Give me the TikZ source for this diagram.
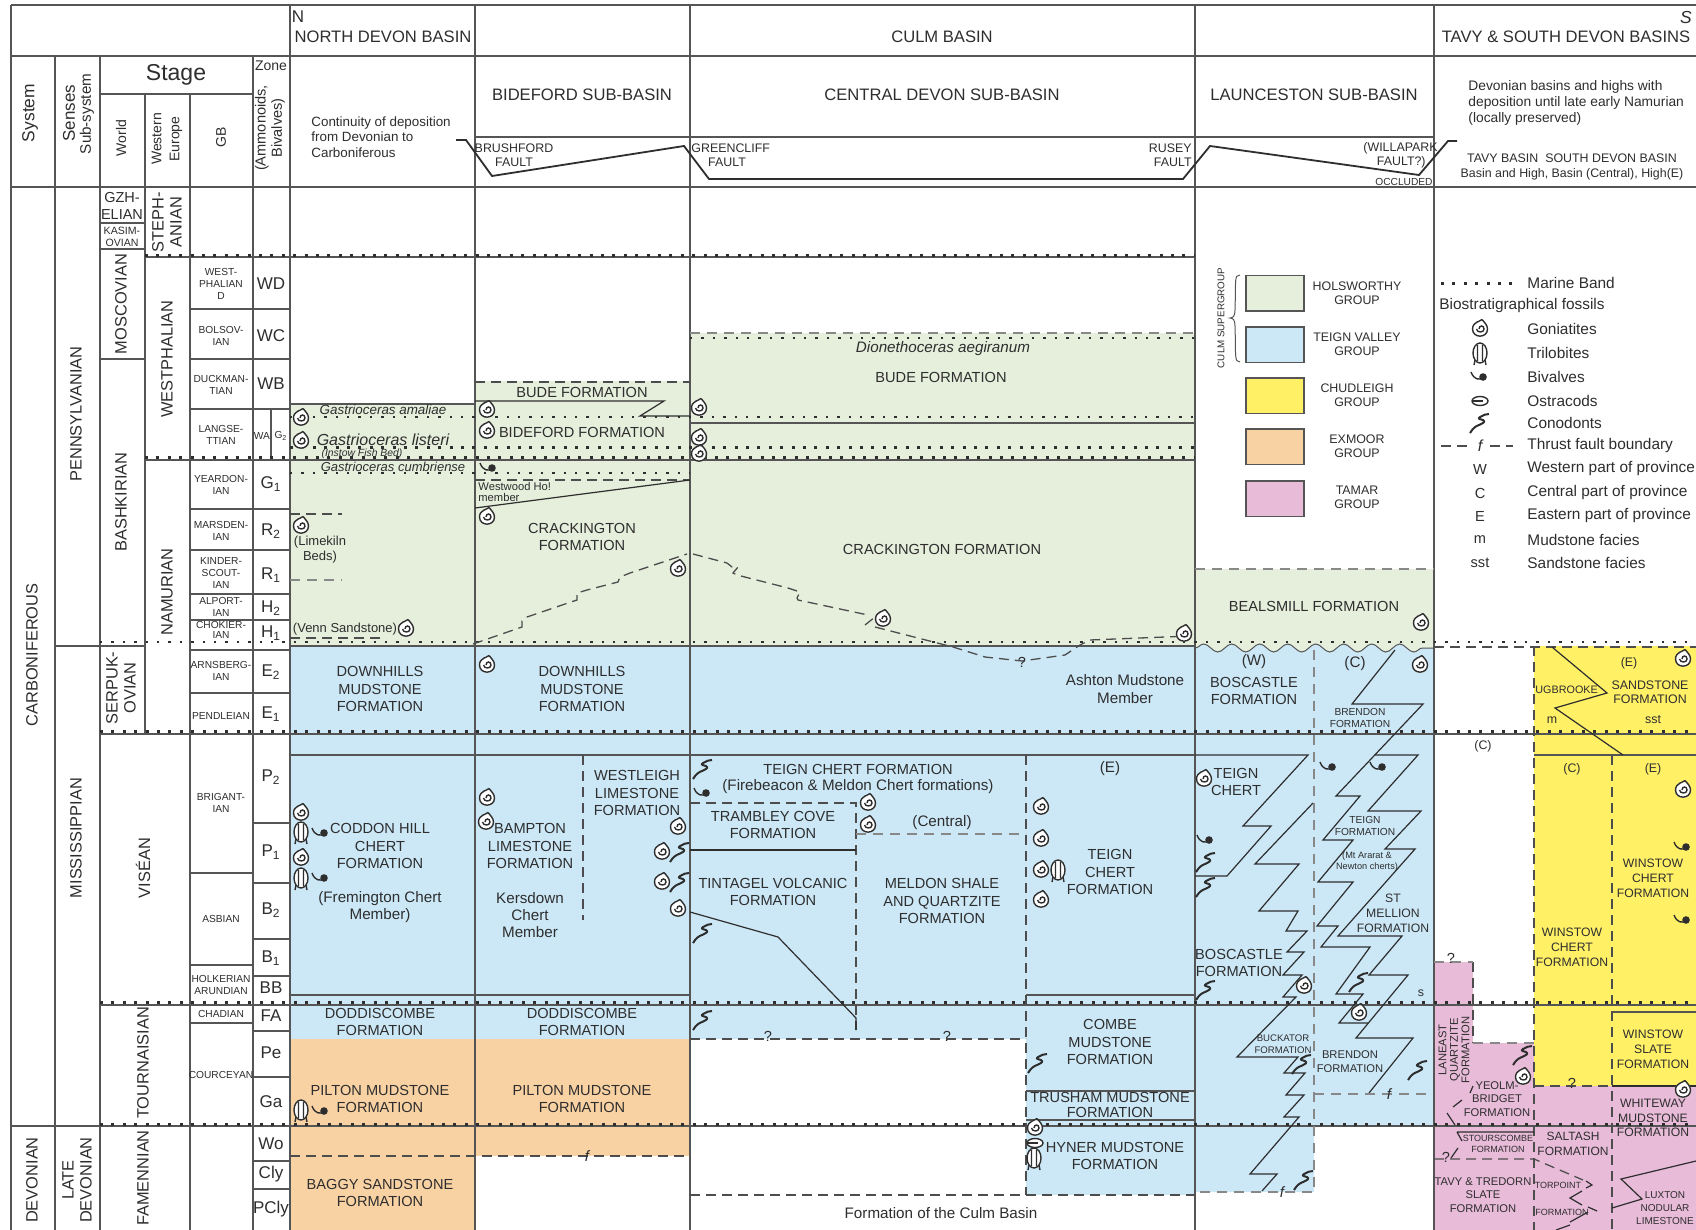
\documentclass[tikz,border=0pt]{standalone}
\usepackage{fontspec}
\setmainfont{Liberation Sans}
\usetikzlibrary{decorations.pathmorphing}
\definecolor{ink}{HTML}{2E2E2E}
\definecolor{rule}{HTML}{555555}
\definecolor{cHol}{HTML}{E6EEDC}
\definecolor{cTei}{HTML}{CCE8F7}
\definecolor{cChu}{HTML}{FFF066}
\definecolor{cExm}{HTML}{F9D2A4}
\definecolor{cTam}{HTML}{E8BBD8}
\begin{document}
\begin{tikzpicture}[
      x=0.5pt,y=-0.5pt,
      every node/.style={inner sep=0pt,text=ink,align=center},
      fm/.style={font=\fontsize{7.3}{8.6}\selectfont},
      fmtx/.style={font=\fontsize{7.6}{8.6}\selectfont},
      fmsm/.style={font=\fontsize{6.2}{7.2}\selectfont},
      fmwn/.style={font=\fontsize{6.1}{7.4}\selectfont},
      fmlo/.style={font=\fontsize{5.6}{6.8}\selectfont},
      fmti/.style={font=\fontsize{5.1}{6}\selectfont},
      fmmi/.style={font=\fontsize{4.5}{5.6}\selectfont},
      hd/.style={font=\fontsize{8.3}{10}\selectfont},
      sb/.style={font=\fontsize{8.3}{10}\selectfont},
      zn/.style={font=\fontsize{8.5}{10}\selectfont},
      ag/.style={font=\fontsize{8.2}{9}\selectfont,rotate=90},
      leg/.style={font=\fontsize{7.7}{9}\selectfont,anchor=west},
      fossil/.style={font=\fontsize{6.7}{8}\selectfont\itshape},
      grid/.style={draw=rule,line width=0.7pt},
      solid line/.style={draw=ink,line width=0.6pt},
      dash line/.style={draw=ink!85,line width=0.65pt,dash pattern=on 5pt off 3pt},
      grey dash/.style={draw=rule!70,line width=0.6pt,dash pattern=on 5pt off 3.5pt},
      thin dots/.style={draw=ink,line width=1.15pt,dash pattern=on 1.15pt off 4.55pt},
      bold dots/.style={draw=ink,line width=1.5pt,dash pattern=on 1.5pt off 4.2pt},
      gon/.pic={
        \fill[white] (0,0) circle (8);
        \draw[ink,line width=0.7pt] (2,-9.5) .. controls (0,-7.5) and (-7.5,-7) .. (-7.5,0) .. controls (-7.5,9.5) and (7.5,9.5) .. (7.5,0) .. controls (7.5,-4) and (4,-7) .. (2,-9.5);
        \draw[ink,line width=0.7pt] (-3.5,0) .. controls (-3,4) and (4,4) .. (4,0) .. controls (4,-4) and (-1,-4) .. (-1,0);
      },
      tri/.pic={
        \draw[ink,fill=white,line width=0.7pt] (0,0) ellipse (7 and 10);
        \draw[ink,line width=0.7pt] (-2.5,-8) -- (-2.5,8) (2.5,-8) -- (2.5,8) (-5,7) -- (-6,12) (5,7) -- (6,12);
      },
      biv/.pic={
        \draw[ink,line width=0.7pt] (-9,-5) .. controls (-6,3) and (-1,3) .. (3,1);
        \fill[ink] (3,0) circle (3.8);
      },
      con/.pic={
        \draw[ink,line width=1pt,line join=round] (-10,10) .. controls (-7,5) and (-4,3) .. (-1,2) .. controls (3,0) and (6,-1) .. (3,-3) .. controls (0,-4) and (-3,-4) .. (0,-6) .. controls (3,-8) and (6,-9) .. (9,-9);
      },
      ost/.pic={
        \draw[ink,line width=0.7pt,fill=white] (0,0) ellipse (8 and 4.5);
        \draw[ink,line width=0.7pt] (-8,0) -- (3,0);
      }]
    \useasboundingbox (0,0) rectangle (1696,1230);
    \fill[white] (0,0) rectangle (1696,1230);
    \fill[cHol] (290,404) rectangle (475,646);
    \fill[cHol] (475,381) rectangle (690,646);
    \fill[cHol] (690,333) rectangle (1195,646);
    \fill[cHol] (1195,569) rectangle (1434,654);
    \fill[cTei] (290,646) rectangle (1195,1039);
    \fill[cTei] (1026,1039) rectangle (1195,1195);
    \fill[cTei,decoration={snake,segment length=14pt,amplitude=2pt}] decorate {(1195,648) -- (1434,648)} -- (1434,1125) -- (1314,1125) -- (1314,1192) -- (1195,1192) -- cycle;
    \fill[cExm] (290,1039) rectangle (475,1230);
    \fill[cExm] (475,1039) rectangle (690,1156);
    \fill[cChu] (1534,646) rectangle (1696,1086);
    \fill[cTam] (1434,962) rectangle (1473,1230);
    \fill[cTam] (1473,1043) rectangle (1534,1230);
    \fill[cTam] (1534,1086) rectangle (1696,1230);
    \draw[rule,line width=0.5pt,decoration={snake,segment length=14pt,amplitude=2pt},decorate] (1195,648) -- (1434,648);

    \foreach \x in {11,290,475,690,1195,1434}
      \draw[grid] (\x,5) -- (\x,1230);
    \foreach \x in {55,100,253}
      \draw[grid] (\x,56) -- (\x,1230);
    \draw[grid] (190,94) -- (190,1230);
    \draw[grid] (145,94) -- (145,734);
    \foreach \y in {5,56,187}
      \draw[grid] (11,\y) -- (1696,\y);
    \draw[grid] (475,137) -- (1434,137);
    \draw[grid] (100,94) -- (253,94);
    \foreach \y in {223,249,359}
      \draw[grid] (100,\y) -- (145,\y);
    \draw[grid] (55,646) -- (145,646);
    \foreach \y in {309,359,409,509,550,594,620,650,693}
      \draw[grid] (190,\y) -- (290,\y);
    \foreach \y in {873,965,1023}
      \draw[grid] (190,\y) -- (253,\y);
    \foreach \y in {823,883,939,976,1031,1077,1161,1189}
      \draw[grid] (253,\y) -- (290,\y);
    \draw[grid] (271,409) -- (271,460);
    \foreach \y in {257,460}
      \draw[grid] (145,\y) -- (1195,\y);
    \foreach \y in {734,1005}
      \draw[grid] (100,\y) -- (1696,\y);
    \draw[grid] (11,1126) -- (1696,1126);
    \draw[grid] (290,646) -- (1195,646);
    \draw[grid] (290,404) -- (475,404);
    \draw[grid] (690,423) -- (1195,423);
    \draw[grid] (290,755) -- (1195,755);
    \draw[grid] (1534,755) -- (1696,755);
    \draw[grid] (290,995) -- (690,995);
    \draw[grid] (1026,995) -- (1195,995);
    \draw[grid] (1026,1091) -- (1195,1091);
    \draw[grid] (1026,1120) -- (1195,1120);
    \draw[grid] (1612,1012) -- (1696,1012);

    \draw[thin dots] (290,417) -- (1195,417);
    \draw[thin dots] (290,473) -- (690,473);
    \draw[thin dots] (690,338) -- (1195,338);
    \draw[thin dots] (100,642) -- (1696,642);
    \draw[bold dots] (145,256) -- (1195,256);
    \draw[bold dots] (290,447) -- (1195,447);
    \draw[bold dots] (145,457) -- (1195,457);
    \foreach \y in {731,1002,1124}
      \draw[bold dots] (100,\y) -- (1696,\y);

    \draw[solid line,line width=0.9pt] (456,140) -- (466,140) -- (492,176) -- (684,146) -- (709,179) -- (1183,179) -- (1210,146) -- (1419,175) -- (1448,141) -- (1457,141);

    \draw[dash line] (475,382) -- (690,382);
    \draw[grey dash] (690,333) -- (1195,333);
    \draw[grey dash] (1195,569) -- (1434,569);
    \draw[solid line] (475,401) -- (664,401) -- (640,416) -- (690,416);
    \draw[dash line] (475,480) -- (690,480);
    \draw[solid line] (475,508) -- (690,480);
    \draw[dash line] (473,644) -- (522,627) -- (522,621) -- (527,617) -- (568,603) -- (577,600) -- (577,593) -- (587,590) -- (618,582) -- (620,577) -- (630,573) -- (687,554);
    \draw[dash line] (693,554) -- (727,563) -- (732,567) -- (738,567) -- (733,573) -- (737,575) -- (788,588) -- (800,592) -- (797,598) -- (798,600) -- (868,615) (865,625) -- (875,617) (875,627) -- (953,647) -- (985,657) -- (1022,661) -- (1065,655) -- (1080,645) -- (1090,640) -- (1190,636);
    \draw[dash line] (290,514) -- (342,514);
    \draw[grey dash] (290,580) -- (342,580);
    \draw[dash line] (290,638) -- (382,638);
    \draw[dash line] (1434,647) -- (1696,647);

    \draw[dash line] (583,755) -- (583,920);
    \draw[dash line] (690,803) -- (856,803) -- (856,1030);
    \draw[solid line] (690,850) -- (856,850);
    \draw[solid line] (690,912) -- (778,937) -- (856,1018) -- (856,1030);
    \draw[grey dash] (856,834) -- (1026,834);
    \draw[dash line] (1026,755) -- (1026,1195);
    \draw[dash line] (690,1039) -- (1026,1039);
    \draw[dash line] (690,1195) -- (1195,1195);
    \draw[dash line] (290,1156) -- (690,1156);

    \draw[solid line] (1195,755) -- (1308,755) -- (1243,826) -- (1271,826) -- (1227,876) -- (1195,876);
    \draw[solid line] (1313,803) -- (1255,864) -- (1299,864) -- (1259,911) -- (1298,911) -- (1286,931) -- (1307,931) -- (1287,952) -- (1304,952) -- (1283,975) -- (1302,975) -- (1283,997) -- (1296,997) -- (1237,1057) -- (1298,1057) -- (1284,1073) -- (1305,1073) -- (1286,1095) -- (1304,1095) -- (1284,1117) -- (1299,1117) -- (1250,1174) -- (1277,1174) -- (1262,1191);
    \draw[solid line] (1395,650) -- (1352,704) -- (1423,704) -- (1336,796) -- (1360,796) -- (1323,840) -- (1353,840) -- (1318,882) -- (1353,882) -- (1317,926) -- (1338,926) -- (1321,947) -- (1370,947) -- (1336,994) -- (1363,994) -- (1339,1023) -- (1368,1023);
    \draw[solid line] (1375,755) -- (1418,755) -- (1368,811) -- (1421,811) -- (1385,849) -- (1415,849) -- (1338,936) -- (1402,936) -- (1369,975) -- (1408,975) -- (1356,1038) -- (1413,1038) -- (1369,1093);
    \draw[grey dash] (1314,650) -- (1314,1192) -- (1195,1192);
    \draw[grey dash] (1314,1094) -- (1427,1094);

    \draw[dash line,line width=0.8pt] (1534,646) -- (1534,1230);
    \draw[dash line,line width=0.8pt] (1612,755) -- (1612,1230);
    \draw[solid line] (1552,647) -- (1607,693) -- (1555,708) -- (1623,755);
    \draw[dash line] (1473,962) -- (1473,1043);
    \draw[grey dash] (1434,962) -- (1473,962);
    \draw[grey dash] (1473,1043) -- (1534,1043);
    \draw[dash line] (1534,1086) -- (1612,1086);
    \draw[solid line] (1612,1086) -- (1696,1086);
    \draw[dash line] (1434,1159) -- (1534,1159) -- (1583,1180);
    \draw[solid line] (1696,1161) -- (1621,1179) -- (1642,1199) -- (1612,1208);
    \draw[solid line] (1457,1132) -- (1534,1132) (1457,1132) -- (1462,1141);
    \draw[solid line] (1473,1086) -- (1470,1093) (1462,1100) -- (1453,1107) (1447,1113) -- (1455,1125);
    \draw[solid line] (1451,1158) -- (1458,1148);
    \draw[solid line] (1586,1181) -- (1592,1185) -- (1586,1188);
    \draw[solid line] (1582,1191) -- (1570,1198) -- (1582,1205);
    \draw[solid line] (1588,1207) -- (1597,1211) (1588,1212) -- (1570,1222) (1570,1225) -- (1556,1230);

    \fill[cHol] (1246,275.5) rectangle (1304,311);
    \fill[cTei] (1246,327) rectangle (1304,362.5);
    \fill[cChu] (1246,378) rectangle (1304,413.5);
    \fill[cExm] (1246,429) rectangle (1304,464.5);
    \fill[cTam] (1246,481) rectangle (1304,516.5);
    \foreach \y in {275.5,327,378,429,481}
      \draw[grid] (1246,\y) rectangle (1304,\y+35.5);
    \draw[rule,line width=0.5pt] (1240,275) .. controls (1234,275) and (1236,280) .. (1235,310) .. controls (1235,316) and (1233,318) .. (1230,318) .. controls (1233,318) and (1235,320) .. (1235,326) .. controls (1236,356) and (1234,362) .. (1240,362);
    \draw[bold dots] (1441,283) -- (1512,283);
    \draw[dash line] (1441,446) -- (1470,446) (1490,446) -- (1513,446);

    \node[zn] at (298,17) {N};
    \node[hd] at (383,37) {NORTH DEVON BASIN};
    \node[hd] at (942,37) {CULM BASIN};
    \node[hd] at (1566,37) {TAVY \& SOUTH DEVON BASINS};
    \node[font=\fontsize{8.7}{10}\selectfont\itshape] at (1686,18) {S};
    \node[sb] at (582,95) {BIDEFORD SUB-BASIN};
    \node[sb] at (942,95) {CENTRAL DEVON SUB-BASIN};
    \node[sb] at (1314,95) {LAUNCESTON SUB-BASIN};
    \node[font=\fontsize{6.7}{7.8}\selectfont,anchor=west,align=left] at (311,137) {Continuity of deposition\\from Devonian to\\Carboniferous};
    \node[font=\fontsize{6.9}{7.8}\selectfont,anchor=west,align=left] at (1468,103) {Devonian basins and highs with\\deposition until late early Namurian\\(locally preserved)};
    \node[fmsm] at (1572,167) {TAVY BASIN\ \ SOUTH DEVON BASIN\\Basin and High, Basin (Central), High(E)};
    \node[fmsm] at (514,155) {BRUSHFORD\\FAULT};
    \node[fmsm,anchor=west] at (691,148) {GREENCLIFF};
    \node[fmsm] at (727,162) {FAULT};
    \node[fmsm,anchor=east] at (1192,148) {RUSEY};
    \node[fmsm,anchor=east] at (1192,162) {FAULT};
    \node[fmsm,anchor=east] at (1438,148) {(WILLAPARK};
    \node[fmsm,anchor=east] at (1426,162) {FAULT?)};
    \node[fmti,anchor=east] at (1433,182) {OCCLUDED};

    \node[font=\fontsize{11.5}{12}\selectfont] at (176,75) {Stage};
    \node[font=\fontsize{7}{8}\selectfont] at (271,66) {Zone};
    \node[font=\fontsize{8.7}{10}\selectfont,rotate=90] at (30,113) {System};
    \node[font=\fontsize{8.5}{10}\selectfont,rotate=90] at (69,113) {Senses};
    \node[font=\fontsize{7.6}{10}\selectfont,rotate=90] at (87,114) {Sub-system};
    \node[font=\fontsize{7}{10}\selectfont,rotate=90] at (121,138) {World};
    \node[font=\fontsize{7}{9}\selectfont,rotate=90] at (167,139) {Western\\Europe};
    \node[font=\fontsize{7}{10}\selectfont,rotate=90] at (221,137) {GB};
    \node[font=\fontsize{7.3}{8.2}\selectfont,rotate=90] at (270,128) {(Ammonoids,\\Bivalves)};

    \node[font=\fontsize{7.25}{8.5}\selectfont] at (122,206) {GZH-\\ELIAN};
    \node[font=\fontsize{5.3}{6}\selectfont] at (122,237) {KASIM-\\OVIAN};
    \node[ag,font=\fontsize{8.2}{9}\selectfont] at (167,222) {STEPH-\\ANIAN};
    \node[ag] at (121,304) {MOSCOVIAN};
    \node[ag] at (121,502) {BASHKIRIAN};
    \node[ag] at (167,359) {WESTPHALIAN};
    \node[ag] at (167,592) {NAMURIAN};
    \node[ag] at (76,414) {PENNSYLVANIAN};
    \node[ag] at (32,655) {CARBONIFEROUS};
    \node[ag] at (76,838) {MISSISSIPPIAN};
    \node[ag] at (121,688) {SERPUK-\\OVIAN};
    \node[ag] at (143,868) {VISÉAN};
    \node[ag] at (143,1063) {TOURNAISIAN};
    \node[ag] at (143,1178) {FAMENNIAN};
    \node[ag] at (32,1180) {DEVONIAN};
    \node[ag] at (77,1180) {LATE\\DEVONIAN};

    \foreach \y/\t in {284/WEST-\\PHALIAN\\D,336/BOLSOV-\\IAN,385/DUCKMAN-\\TIAN,435/LANGSE-\\TTIAN,485/YEARDON-\\IAN,531/MARSDEN-\\IAN,573/KINDER-\\SCOUT-\\IAN,607/ALPORT-\\IAN,671/ARNSBERG-\\IAN,716/PENDLEIAN,803/BRIGANT-\\IAN,919/ASBIAN,985/HOLKERIAN\\ARUNDIAN,1014/CHADIAN,1075/COURCEYAN}
      \node[fmti] at (221,\y) {\t};
    \node[font=\fontsize{5.1}{4.6}\selectfont] at (221,630) {CHOKIER-\\IAN};
    \foreach \y/\t in {284/WD,336/WC,384/WB,484/G\textsubscript{1},531/R\textsubscript{2},575/R\textsubscript{1},608/H\textsubscript{2},633/H\textsubscript{1},672/E\textsubscript{2},714/E\textsubscript{1},777/P\textsubscript{2},852/P\textsubscript{1},910/B\textsubscript{2},958/B\textsubscript{1},988/BB,1016/FA,1053/Pe,1102/Ga,1144/Wo,1174/Cly,1209/PCly}
      \node[zn] at (271,\y) {\t};
    \node[fmti] at (262,436) {WA};
    \node[fmti] at (281,436) {G\textsubscript{2}};

    \node[fossil] at (383,410) {Gastrioceras amaliae};
    \node[fossil,font=\fontsize{8}{9}\selectfont\itshape] at (383,440) {Gastrioceras listeri};
    \node[fmti,font=\fontsize{5.2}{6}\selectfont\itshape] at (362,454) {(Instow Fish Bed)};
    \node[fossil,font=\fontsize{6.5}{8}\selectfont\itshape] at (393,467) {Gastrioceras cumbriense};
    \node[fossil,font=\fontsize{7.6}{8}\selectfont\itshape] at (943,349) {Dionethoceras aegiranum};
    \node[font=\fontsize{6.5}{7.5}\selectfont] at (320,550) {(Limekiln\\Beds)};
    \node[font=\fontsize{6.5}{7.5}\selectfont] at (345,629) {(Venn Sandstone)};
    \foreach \x in {380,582}
      \node[fm] at (\x,689) {DOWNHILLS\\MUDSTONE\\FORMATION};
    \foreach \x in {380,582}
      \node[fm] at (\x,1022) {DODDISCOMBE\\FORMATION};
    \foreach \x in {380,582}
      \node[fm] at (\x,1099) {PILTON MUDSTONE\\FORMATION};
    \node[fm] at (380,846) {CODDON HILL\\CHERT\\FORMATION};
    \node[fmtx] at (380,907) {(Fremington Chert\\Member)};
    \node[fm] at (380,1193) {BAGGY SANDSTONE\\FORMATION};
    \node[fm] at (582,392) {BUDE FORMATION};
    \node[fm] at (582,432) {BIDEFORD FORMATION};
    \node[font=\fontsize{5.6}{5.2}\selectfont,anchor=west,align=left] at (478,492) {Westwood Ho!\\member};
    \node[fm] at (582,537) {CRACKINGTON\\FORMATION};
    \node[fm] at (530,846) {BAMPTON\\LIMESTONE\\FORMATION};
    \node[fmtx] at (530,915) {Kersdown\\Chert\\Member};
    \node[fm] at (637,793) {WESTLEIGH\\LIMESTONE\\FORMATION};
    \node[fm] at (941,377) {BUDE FORMATION};
    \node[fm] at (942,549) {CRACKINGTON FORMATION};
    \node[fmtx] at (1125,689) {Ashton Mudstone\\Member};
    \node[fm] at (858,769) {TEIGN CHERT FORMATION};
    \node[fmtx] at (858,787) {(Firebeacon \& Meldon Chert formations)};
    \node[fm] at (773,825) {TRAMBLEY COVE\\FORMATION};
    \node[fmtx] at (942,823) {(Central)};
    \node[fm] at (773,892) {TINTAGEL VOLCANIC\\FORMATION};
    \node[fm] at (942,901) {MELDON SHALE\\AND QUARTZITE\\FORMATION};
    \node[fmtx] at (1110,769) {(E)};
    \node[fm] at (1110,872) {TEIGN\\CHERT\\FORMATION};
    \node[fm] at (1110,1042) {COMBE\\MUDSTONE\\FORMATION};
    \node[font=\fontsize{7.3}{7.4}\selectfont] at (1110,1105) {TRUSHAM MUDSTONE\\FORMATION};
    \node[fm] at (1115,1156) {HYNER MUDSTONE\\FORMATION};
    \node[fmtx] at (941,1213) {Formation of the Culm Basin};
    \node[fm] at (1314,606) {BEALSMILL FORMATION};
    \node[fmtx] at (1254,662) {(W)};
    \node[fm] at (1254,691) {BOSCASTLE\\FORMATION};
    \node[fmtx] at (1355,664) {(C)};
    \node[fmti] at (1360,718) {BRENDON\\FORMATION};
    \node[fm] at (1236,782) {TEIGN\\CHERT};
    \node[fm] at (1239,963) {BOSCASTLE\\FORMATION};
    \node[font=\fontsize{4.8}{6}\selectfont] at (1283,1044) {BUCKATOR\\FORMATION};
    \node[fmti] at (1365,826) {TEIGN\\FORMATION};
    \node[font=\fontsize{4.6}{5.5}\selectfont] at (1367,862) {(Mt Ararat \&\\Newton cherts)};
    \node[fmwn] at (1393,913) {ST\\MELLION\\FORMATION};
    \node[fmsm] at (1421,993) {s};
    \node[fmlo,font=\fontsize{5.6}{7}\selectfont] at (1350,1062) {BRENDON\\FORMATION};

    \node[fmsm] at (1629,663) {(E)};
    \node[fmsm] at (1650,692) {SANDSTONE\\FORMATION};
    \node[fmlo,anchor=west,font=\fontsize{5.4}{7}\selectfont] at (1535,690) {UGBROOKE};
    \node[fmsm] at (1552,720) {m};
    \node[fmsm] at (1653,720) {sst};
    \node[fmsm] at (1483,746) {(C)};
    \node[fmsm] at (1572,769) {(C)};
    \node[fmsm] at (1653,769) {(E)};
    \node[fmwn] at (1653,878) {WINSTOW\\CHERT\\FORMATION};
    \node[fmwn] at (1572,947) {WINSTOW\\CHERT\\FORMATION};
    \node[fmwn] at (1653,1049) {WINSTOW\\SLATE\\FORMATION};
    \node[fmwn] at (1653,1118) {WHITEWAY\\MUDSTONE\\FORMATION};
    \node[font=\fontsize{5.6}{5.8}\selectfont,rotate=90] at (1454,1050) {LANEAST\\QUARTZITE\\FORMATION};
    \node[fmlo] at (1497,1099) {YEOLM-\\BRIDGET\\FORMATION};
    \node[fmmi] at (1498,1144) {STOURSCOMBE\\FORMATION};
    \node[fmwn,font=\fontsize{6}{7.2}\selectfont] at (1573,1144) {SALTASH\\FORMATION};
    \node[fmlo] at (1483,1195) {TAVY \& TREDORN\\SLATE\\FORMATION};
    \node[fmmi] at (1558,1185) {TORPOINT};
    \node[fmmi] at (1562,1212) {FORMATION};
    \node[font=\fontsize{5}{6.6}\selectfont] at (1665,1208) {LUXTON\\NODULAR\\LIMESTONE};
    \foreach \x/\y in {768/1036,947/1036,1022/662,1451/958,1572/1083,1446/1157}
      \node[font=\fontsize{7.3}{8}\selectfont] at (\x,\y) {?};
    \foreach \x/\y in {587/1156,1389/1094,1282/1192}
      \node[font=\fontsize{7.5}{8}\selectfont\itshape] at (\x,\y) {f};

    \node[rotate=90,font=\fontsize{4.9}{6}\selectfont] at (1221,318) {CULM SUPERGROUP};
    \foreach \y/\t in {293/HOLSWORTHY\\GROUP,344/TEIGN VALLEY\\GROUP,395/CHUDLEIGH\\GROUP,446/EXMOOR\\GROUP,497/TAMAR\\GROUP}
      \node[fmsm] at (1357,\y) {\t};
    \foreach \y/\t in {283/Marine Band,329/Goniatites,353/Trilobites,377/Bivalves,401/Ostracods,423/Conodonts,446/Thrust fault boundary,469/Western part of province,493/Central part of province,516/Eastern part of province,540/Mudstone facies,563/Sandstone facies}
      \node[leg] at (1527,\y) {\t};
    \node[leg] at (1439,306) {Biostratigraphical fossils};
    \foreach \y/\t in {469/W,493/C,516/E,540/m,563/sst}
      \node[fm] at (1480,\y) {\t};
    \node[font=\fontsize{8}{9}\selectfont\itshape] at (1480,446) {f};

    \foreach \x/\y in {301/418,301/441,301/526,406/629,301/813,301/858,487/410,487/431,487/517,678/569,487/665,487/798,486/822,678/827,662/852,662/882,678/909,699/408,699/438,699/454,883/619,1184/634,868/803,868/825,1041/807,1041/839,1041/870,1041/900,1035/1128,1204/779,1304/986,1421/623,1420/665,1359/1013,1523/1077,1683/659,1683/790,1683/1090,1480/329}
      \pic at (\x,\y) {gon};
    \foreach \x/\y in {301/832,301/878,301/1110,1058/870,1034/1158,1480/353}
      \pic at (\x,\y) {tri};
    \foreach \x/\y in {321/833,321/878,321/1111,489/468,703/793,1206/840,1329/767,1379/767,1683/847,1683/920,1480/377}
      \pic at (\x,\y) {biv};
    \foreach \x/\y in {680/852,680/882,703/769,703/933,703/1020,1038/1063,1206/862,1206/887,1206/990,1302/1064,1304/1180,1359/982,1418/1070,1523/1055,1480/423}
      \pic at (\x,\y) {con};
    \pic at (1035,1143) {ost};
    \pic at (1480,401) {ost};
  \end{tikzpicture}
\end{document}
